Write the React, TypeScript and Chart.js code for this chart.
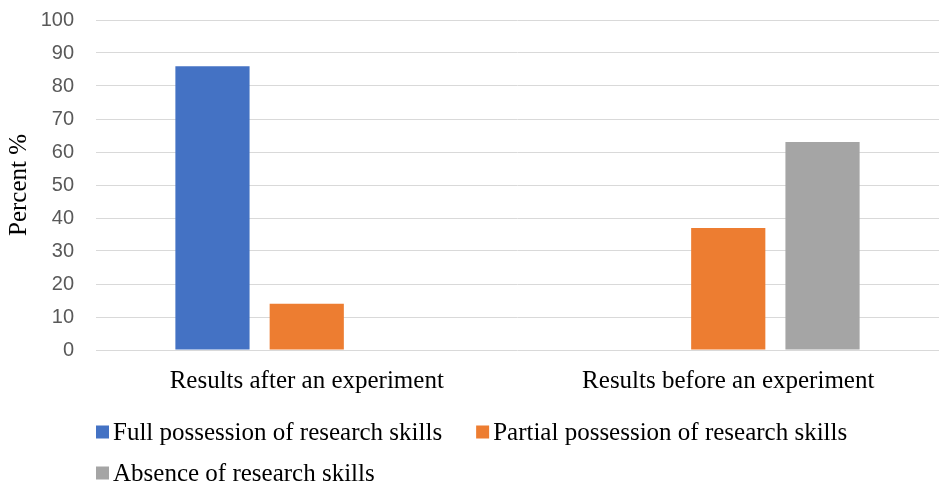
import React, { useEffect, useRef } from "react";
import { Chart, registerables } from "chart.js";

Chart.register(...registerables);

const categories = ["Results after an experiment", "Results before an experiment"];
const seriesNames = [
  "Full possession of research skills",
  "Partial possession of research skills",
  "Absence of research skills",
];
const fullValues = [86, 0];
const partialValues = [14, 37];
const absenceValues = [0, 63];
const seriesColors = ["#4472C4", "#ED7D31", "#A5A5A5"];
const yTicksMin = 0;
const yTicksMax = 100;
const yTicksStep = 10;
const yTitle = "Percent %";

const SERIF = '"Liberation Serif", "Times New Roman", serif';

const legendPlugin = {
  id: "customLegend",
  afterDraw(chart: any) {
    const ctx = chart.ctx;
    const area = chart.chartArea;
    ctx.save();
    ctx.font = `25px ${SERIF}`;
    ctx.textBaseline = "middle";
    ctx.textAlign = "left";
    const box = 13;
    const textGap = 4;
    const itemGap = 34;
    const rowH = 41;
    let x = area.left;
    let y = 432;
    chart.data.datasets.forEach((ds: any) => {
      const tw = ctx.measureText(ds.label).width;
      const w = box + textGap + tw;
      if (x + w > area.right && x > area.left) {
        x = area.left;
        y += rowH;
      }
      ctx.fillStyle = ds.backgroundColor;
      ctx.fillRect(x, y - box / 2, box, box);
      ctx.fillStyle = "#000";
      ctx.fillText(ds.label, x + box + textGap, y + 1);
      x += w + itemGap;
    });
    ctx.restore();
  },
};

export default function App() {
  const ref = useRef<HTMLCanvasElement | null>(null);
  useEffect(() => {
    document.body.style.margin = "0";
    const values = [fullValues, partialValues, absenceValues];
    const chart = new Chart(ref.current as HTMLCanvasElement, {
      type: "bar",
      data: {
        labels: categories,
        datasets: seriesNames.map((name, i) => ({
          label: name,
          data: values[i],
          backgroundColor: seriesColors[i],
          borderWidth: 0,
          categoryPercentage: 0.671,
          barPercentage: 0.787,
        })),
      },
      options: {
        animation: false,
        responsive: false,
        maintainAspectRatio: false,
        layout: { padding: { left: 0, right: 0, top: 20, bottom: 92 } },
        plugins: {
          legend: { display: false },
          tooltip: { enabled: false },
        },
        scales: {
          x: {
            grid: { display: false, drawTicks: false },
            border: { display: false },
            ticks: {
              color: "#000",
              font: { family: SERIF, size: 25 },
              padding: 16,
              maxRotation: 0,
            },
            afterFit: (s: any) => {
              s.height = 45;
              s.paddingLeft = 0;
              s.paddingRight = 0;
            },
          },
          y: {
            min: yTicksMin,
            max: yTicksMax,
            ticks: {
              stepSize: yTicksStep,
              color: "#595959",
              font: { family: '"Liberation Sans", Arial, sans-serif', size: 20 },
              padding: 22,
            },
            grid: { color: "#D9D9D9", lineWidth: 1, drawTicks: false },
            border: { display: false },
            title: {
              display: true,
              text: yTitle,
              color: "#000",
              font: { family: SERIF, size: 25 },
              padding: { top: 4, bottom: 0 },
            },
            afterFit: (s: any) => {
              s.width = 96;
              s.paddingTop = 0;
              s.paddingBottom = 0;
            },
          },
        },
      },
      plugins: [legendPlugin],
    });
    return () => chart.destroy();
  }, []);
  return (
    <div style={{ width: 939, height: 487, background: "#fff" }}>
      <canvas ref={ref} width={939} height={487} style={{ display: "block" }} />
    </div>
  );
}
